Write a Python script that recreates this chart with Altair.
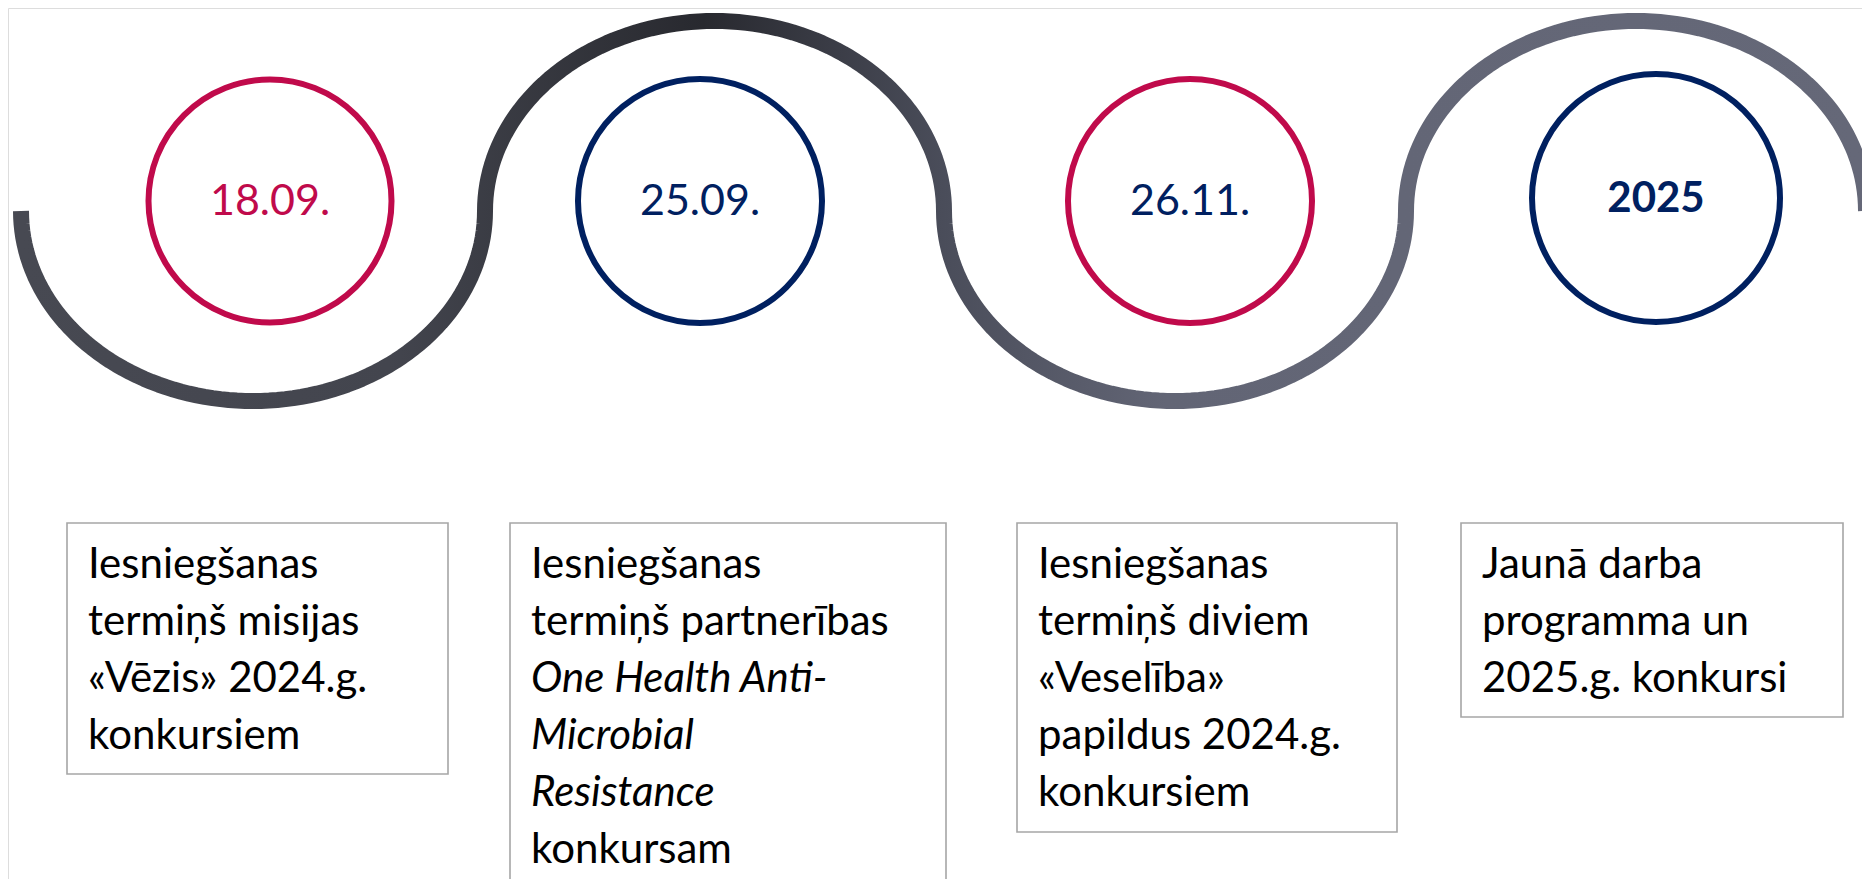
import math
import altair as alt
import pandas as pd

# ---- content ----
dates = ["18.09.", "25.09.", "26.11.", "2025"]
date_text_colors = ["#C00A4B", "#002060", "#002060", "#002060"]
ring_colors = ["#C00A4B", "#002060", "#C00A4B", "#002060"]
date_weights = ["normal", "normal", "normal", "bold"]

box_lines = [
    ["Iesniegšanas", "termiņš misijas", "«Vēzis» 2024.g.", "konkursiem"],
    ["Iesniegšanas", "termiņš partnerības", "One Health Anti-", "Microbial", "Resistance", "konkursam"],
    ["Iesniegšanas", "termiņš diviem", "«Veselība»", "papildus 2024.g.", "konkursiem"],
    ["Jaunā darba", "programma un", "2025.g. konkursi"],
]
box_italic = [
    [False, False, False, False],
    [False, False, True, True, True, False],
    [False, False, False, False, False],
    [False, False, False],
]

# ---- layout (page pixels) ----
ring_x = [270, 700, 1190, 1656]
ring_y = [201, 201, 201, 198]
ring_d = [243, 244, 244, 248]

box_left = [67, 510, 1017, 1461]
box_right = [448, 946, 1397, 1843]
box_top = [523, 523, 523, 523]
box_bottom = [774, 900, 832, 717]

wave_edges = [21, 485, 944, 1406, 1866]
wave_mid = 211
wave_amp = 190

W, H = 1854, 871
xs = alt.Scale(domain=[8, 8 + W], nice=False, zero=False)
ys = alt.Scale(domain=[8, 8 + H], nice=False, zero=False, reverse=True)

# wave geometry
pts = []
k = 0
for i in range(len(wave_edges) - 1):
    a, b = wave_edges[i], wave_edges[i + 1]
    cx, rx = (a + b) / 2, (b - a) / 2
    sign = 1 if i % 2 == 0 else -1
    n = 90
    for j in range(n + 1):
        if i > 0 and j == 0:
            continue
        t = math.pi * j / n
        pts.append({"o": k, "x": cx - rx * math.cos(t), "y": wave_mid + sign * wave_amp * math.sin(t)})
        k += 1
wave_df = pd.DataFrame(pts)

grad = alt.LinearGradient(
    gradient="linear",
    x1=0, x2=1, y1=0, y2=0,
    stops=[
        alt.GradientStop(offset=0.0, color="#474952"),
        alt.GradientStop(offset=0.2, color="#43454e"),
        alt.GradientStop(offset=0.37, color="#28292f"),
        alt.GradientStop(offset=0.5, color="#4a4d5a"),
        alt.GradientStop(offset=0.62, color="#626575"),
        alt.GradientStop(offset=1.0, color="#656878"),
    ],
)

wave = alt.Chart(wave_df).mark_line(
    stroke=grad, strokeWidth=16, strokeCap="butt", strokeJoin="round"
).encode(
    x=alt.X("x:Q", scale=xs, axis=None),
    y=alt.Y("y:Q", scale=ys, axis=None),
    order="o:Q",
)

ring_df = pd.DataFrame({
    "x": ring_x, "y": ring_y, "size": [d * d for d in ring_d],
    "col": ring_colors, "label": dates, "tcol": date_text_colors,
    "w": date_weights, "ty": [y + 14 for y in ring_y],
})

rings = alt.Chart(ring_df).mark_point(
    shape="circle", filled=False, strokeWidth=6, opacity=1
).encode(
    x=alt.X("x:Q", scale=xs, axis=None),
    y=alt.Y("y:Q", scale=ys, axis=None),
    size=alt.Size("size:Q", scale=None, legend=None),
    stroke=alt.Stroke("col:N", scale=None, legend=None),
)

labels_normal = alt.Chart(ring_df[ring_df.w == "normal"]).mark_text(
    font="Lato", fontSize=43, align="center", baseline="alphabetic"
).encode(
    x=alt.X("x:Q", scale=xs, axis=None),
    y=alt.Y("ty:Q", scale=ys, axis=None),
    text="label:N",
    color=alt.Color("tcol:N", scale=None, legend=None),
)
labels_bold = alt.Chart(ring_df[ring_df.w == "bold"]).mark_text(
    font="Lato", fontSize=42, fontWeight="bold", align="center", baseline="alphabetic"
).encode(
    x=alt.X("x:Q", scale=xs, axis=None),
    y=alt.Y("ty:Q", scale=ys, axis=None),
    text="label:N",
    color=alt.Color("tcol:N", scale=None, legend=None),
)

box_df = pd.DataFrame({"x": box_left, "x2": box_right, "y": box_top, "y2": box_bottom})
boxes = alt.Chart(box_df).mark_rect(
    fill="white", stroke="#a6a6a6", strokeWidth=1.6, clip=True
).encode(
    x=alt.X("x:Q", scale=xs, axis=None), x2="x2:Q",
    y=alt.Y("y:Q", scale=ys, axis=None), y2="y2:Q",
)

rows = []
for b, lines in enumerate(box_lines):
    for li, line in enumerate(lines):
        rows.append({
            "x": box_left[b] + 21,
            "y": box_top[b] + 55 + 57 * li,
            "text": line,
            "it": box_italic[b][li],
        })
txt_df = pd.DataFrame(rows)

txt_normal = alt.Chart(txt_df[~txt_df.it]).mark_text(
    font="Lato", fontSize=42, align="left", baseline="alphabetic", color="#000000"
).encode(
    x=alt.X("x:Q", scale=xs, axis=None),
    y=alt.Y("y:Q", scale=ys, axis=None),
    text="text:N",
)
txt_italic = alt.Chart(txt_df[txt_df.it]).mark_text(
    font="Lato", fontSize=42, fontStyle="italic", align="left", baseline="alphabetic", color="#000000"
).encode(
    x=alt.X("x:Q", scale=xs, axis=None),
    y=alt.Y("y:Q", scale=ys, axis=None),
    text="text:N",
)

chart = alt.layer(
    wave, rings, labels_normal, labels_bold, boxes, txt_normal, txt_italic
).properties(
    width=W, height=H, padding=0, autosize=alt.AutoSizeParams(type="none")
).configure_view(stroke=None).configure(background="white")

chart.save("out.html", embed_options={"renderer": "svg", "actions": False})
